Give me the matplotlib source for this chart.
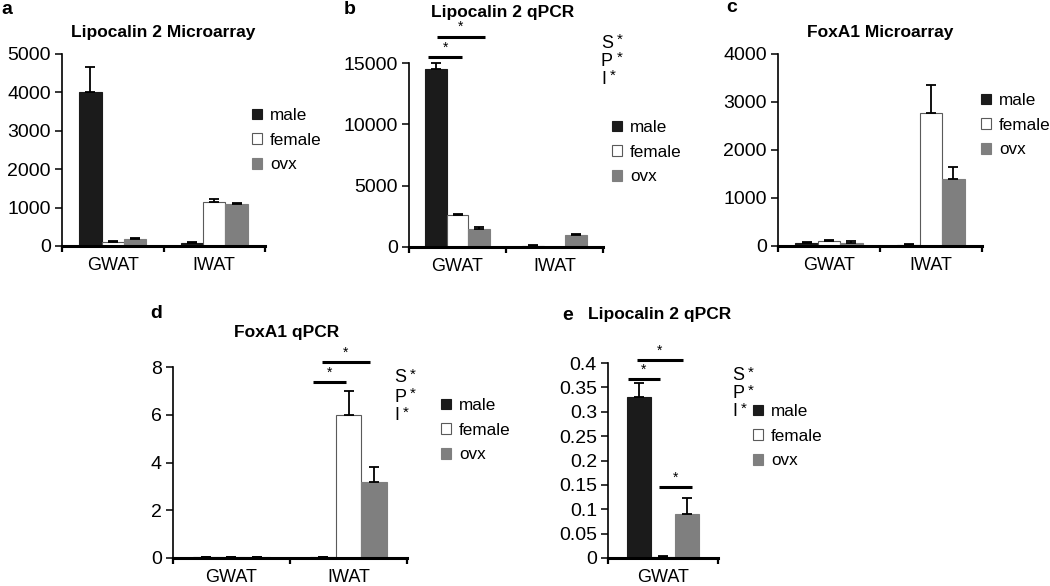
import matplotlib
matplotlib.use("Agg")
import matplotlib.pyplot as plt
import numpy as np
from matplotlib.ticker import FuncFormatter

plt.rcParams['font.family'] = ['Liberation Sans', 'DejaVu Sans']

series = ['male', 'female', 'ovx']
groups2 = ['GWAT', 'IWAT']
groups1 = ['GWAT']

# a: Lipocalin 2 Microarray
a_vals = {'male': [4000, 70], 'female': [100, 1150], 'ovx': [190, 1090]}
a_err = {'male': [650, 30], 'female': [20, 80], 'ovx': [30, 30]}
# b: Lipocalin 2 qPCR
b_vals = {'male': [14500, 100], 'female': [2600, 20], 'ovx': [1500, 1000]}
b_err = {'male': [500, 30], 'female': [80, 10], 'ovx': [100, 80]}
# c: FoxA1 Microarray
c_vals = {'male': [60, 30], 'female': [100, 2780], 'ovx': [70, 1400]}
c_err = {'male': [20, 20], 'female': [20, 570], 'ovx': [30, 240]}
# d: FoxA1 qPCR
d_vals = {'male': [0.03, 0.03], 'female': [0.03, 6.0], 'ovx': [0.03, 3.2]}
d_err = {'male': [0.03, 0.03], 'female': [0.03, 1.0], 'ovx': [0.03, 0.6]}
# e: Lipocalin 2 qPCR (GWAT)
e_vals = {'male': [0.33], 'female': [0.003], 'ovx': [0.09]}
e_err = {'male': [0.03], 'female': [0.002], 'ovx': [0.033]}

colors = {'male': '#1b1b1b', 'female': '#ffffff', 'ovx': '#7f7f7f'}
edges = {'male': '#1b1b1b', 'female': '#5a5a5a', 'ovx': '#7f7f7f'}

fig = plt.figure(figsize=(10.5, 5.86), dpi=100)
W, H = 1050, 586

def axes_px(l, r, b, t):
    return fig.add_axes([l / W, 1 - b / H, (r - l) / W, (b - t) / H])

def panel(ax, groups, vals, errs, ymax, yticks, title, title_xy, label, label_xy,
          legend_xy, fmt=None):
    x = np.arange(len(groups))
    w = 0.22
    for i, s in enumerate(series):
        ax.bar(x + (i - 1) * w, vals[s], w, color=colors[s], edgecolor=edges[s],
               linewidth=0.8, label=s, zorder=2)
        ax.errorbar(x + (i - 1) * w, vals[s], yerr=[np.zeros(len(groups)), errs[s]],
                    fmt='none', ecolor='black', elinewidth=1.3, capsize=3.5,
                    capthick=1.3, zorder=3, clip_on=False)
    ax.set_xlim(-0.5, len(groups) - 0.5)
    ax.set_ylim(0, ymax)
    ax.set_yticks(yticks)
    if fmt:
        ax.yaxis.set_major_formatter(FuncFormatter(fmt))
    ax.set_xticks(x)
    ax.set_xticklabels(groups)
    ax.set_xticks(np.arange(len(groups) + 1) - 0.5, minor=True)
    ax.tick_params(axis='x', which='major', length=0, pad=8, labelsize=13)
    ax.tick_params(axis='x', which='minor', length=4, width=1.6, direction='out')
    ax.tick_params(axis='y', length=5, width=1.1, pad=3, labelsize=14)
    for sp in ['top', 'right']:
        ax.spines[sp].set_visible(False)
    ax.spines['bottom'].set_linewidth(2.2)
    ax.spines['left'].set_linewidth(1.2)
    ax.spines['bottom'].set_zorder(4)
    fig.text(title_xy[0] / W, 1 - title_xy[1] / H, title, ha='center', va='center',
             fontsize=12.5, fontweight='bold')
    fig.text(label_xy[0] / W, 1 - label_xy[1] / H, label, ha='left', va='center',
             fontsize=14, fontweight='bold')
    ax.legend(loc='upper left', bbox_to_anchor=(legend_xy[0] / W, 1 - legend_xy[1] / H),
              bbox_transform=fig.transFigure, frameon=False, fontsize=12.3,
              handlelength=0.6, handleheight=0.6, handletextpad=0.45,
              labelspacing=0.56, borderpad=0, borderaxespad=0)

def spi(ax, xy, dy=18):
    for k, t in enumerate(['S', 'P', 'I']):
        letter = fig.text(xy[0] / W, 1 - (xy[1] + k * dy) / H, t, ha='left',
                          va='center', fontsize=13)
        ax.annotate('*', xy=(1, 1), xycoords=letter, xytext=(2.5, 1.5),
                    textcoords='offset points', ha='left', va='top', fontsize=11,
                    annotation_clip=False)

def bracket(ax, x1, x2, y, star_dy):
    ax.plot([x1, x2], [y, y], color='black', lw=2.2, clip_on=False, solid_capstyle='butt')
    ax.text((x1 + x2) / 2, y + star_dy, '*', ha='center', va='bottom', fontsize=10,
            clip_on=False)

ax_a = axes_px(62, 265, 246, 54)
panel(ax_a, groups2, a_vals, a_err, 5000, [0, 1000, 2000, 3000, 4000, 5000],
      'Lipocalin 2 Microarray', (163, 33), 'a', (1, 9), (252, 108))

ax_b = axes_px(409, 603, 247, 63)
panel(ax_b, groups2, b_vals, b_err, 15000, [0, 5000, 10000, 15000],
      'Lipocalin 2 qPCR', (503, 12), 'b', (344, 9), (612, 120))
bracket(ax_b, -0.30, 0.05, 15500, 200)
bracket(ax_b, -0.21, 0.28, 17150, 200)
spi(ax_b, (601, 43), 18)

ax_c = axes_px(778, 982, 246, 54)
panel(ax_c, groups2, c_vals, c_err, 4000, [0, 1000, 2000, 3000, 4000],
      'FoxA1 Microarray', (880, 32), 'c', (726, 8), (981, 93))

ax_d = axes_px(173, 407, 558, 367)
panel(ax_d, groups2, d_vals, d_err, 8, [0, 2, 4, 6, 8],
      'FoxA1 qPCR', (287, 333), 'd', (150, 313), (441, 398))
bracket(ax_d, 0.70, 0.98, 7.37, 0.1)
bracket(ax_d, 0.77, 1.18, 8.2, 0.1)
spi(ax_d, (394, 378), 19)

ax_e = axes_px(608, 718, 558, 363)
panel(ax_e, groups1, e_vals, e_err, 0.4, np.arange(0, 0.41, 0.05),
      'Lipocalin 2 qPCR', (660, 315), 'e', (562, 315), (753, 404),
      fmt=lambda v, p: '0' if abs(v) < 1e-9 else f'{v:g}')
bracket(ax_e, -0.32, -0.03, 0.367, 0.004)
bracket(ax_e, -0.24, 0.18, 0.406, 0.004)
bracket(ax_e, -0.04, 0.26, 0.146, 0.004)
spi(ax_e, (732, 376), 18)

fig.savefig('out.png', dpi=100)
